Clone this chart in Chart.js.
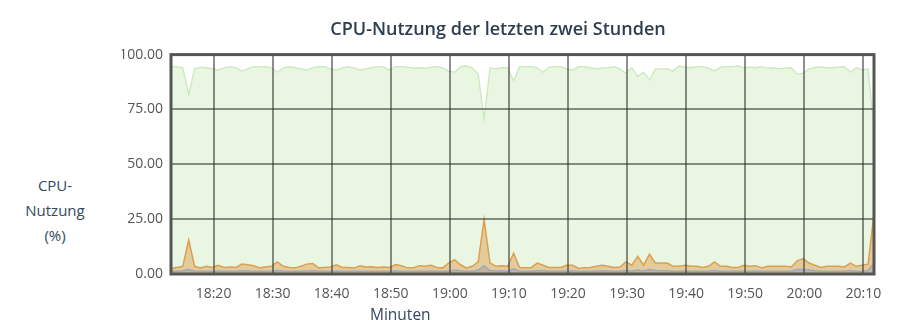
<!DOCTYPE html>
<html>
<head>
<meta charset="utf-8">
<script src="https://cdn.jsdelivr.net/npm/chart.js@4/dist/chart.umd.min.js"></script>
<style>
  body { margin: 0; width: 907px; height: 320px; position: relative; background: #fff; font-family: "Open Sans", sans-serif; overflow: hidden; }
  #ylabel { position: absolute; left: 0; top: 173px; width: 110px; text-align: center; line-height: 25px; font-size: 15px; color: #34495e; }
  #xlabel { position: absolute; left: 370px; top: 303px; line-height: 22px; font-size: 15.5px; color: #34495e; }
  #wrap { position: absolute; left: 90px; top: 0; width: 817px; height: 320px; }
</style>
</head>
<body>
<div id="ylabel">CPU-<br>Nutzung<br>(%)</div>
<div id="wrap"><canvas id="cpuChart" width="817" height="320"></canvas></div>
<div id="xlabel">Minuten</div>
<script>
// one sample per minute, first sample at 18:12:48
var sampleStart = '18:12:48';
var sampleStepMin = 1;

var xTickLabels = ['18:20', '18:30', '18:40', '18:50', '19:00', '19:10',
                   '19:20', '19:30', '19:40', '19:50', '20:00', '20:10'];
var yTickValues = [0, 25, 50, 75, 100];

// idle (green)
var idleValues = [
  94.5, 94.5, 94.0, 82.0, 93.5, 94.3, 94.0, 93.5, 93.0, 94.0,
  94.5, 94.0, 92.5, 93.5, 94.5, 94.3, 94.5, 94.0, 92.0, 94.0,
  94.5, 94.0, 93.5, 93.0, 94.0, 94.5, 94.5, 93.5, 93.0, 94.0,
  94.5, 94.0, 93.0, 93.5, 94.0, 94.5, 94.3, 93.0, 94.5, 94.5,
  94.3, 93.8, 94.0, 93.8, 94.2, 94.5, 94.0, 92.5, 92.0, 94.5,
  94.8, 94.0, 91.0, 70.5, 94.0, 93.5, 94.0, 94.0, 88.0, 94.5,
  94.5, 94.5, 94.0, 92.0, 94.3, 94.5, 94.5, 93.5, 93.0, 94.5,
  94.5, 94.0, 93.5, 93.8, 94.0, 94.5, 93.5, 91.5, 94.0, 90.0,
  92.0, 88.5, 93.5, 93.5, 93.5, 92.5, 94.8, 94.3, 94.0, 94.5,
  94.5, 93.8, 92.5, 94.3, 94.5, 94.5, 94.8, 94.0, 94.3, 94.0,
  94.5, 93.8, 94.0, 93.5, 93.8, 94.0, 91.0, 91.5, 93.5, 94.0,
  94.5, 94.0, 94.0, 94.3, 94.5, 92.0, 94.0, 93.0, 93.5, 66.0
];

// user (orange)
var userValues = [
  2.5, 3.0, 3.5, 15.5, 3.5, 2.8, 3.5, 3.0, 4.0, 3.0,
  3.2, 3.0, 4.5, 4.2, 3.8, 2.8, 3.2, 3.5, 5.5, 3.5,
  3.0, 2.8, 3.5, 4.5, 4.8, 2.8, 3.0, 3.2, 4.2, 3.0,
  3.0, 2.7, 3.8, 3.2, 3.3, 3.0, 3.2, 3.0, 4.3, 3.8,
  2.8, 2.8, 3.8, 3.5, 4.0, 3.0, 2.8, 5.0, 6.5, 4.2,
  2.8, 3.5, 5.5, 24.8, 5.0, 3.5, 3.8, 3.5, 9.5, 3.0,
  2.8, 3.0, 5.0, 4.0, 3.0, 3.0, 3.0, 4.0, 4.0, 2.5,
  2.8, 3.0, 3.5, 4.0, 3.5, 3.0, 3.2, 5.5, 4.0, 8.0,
  4.0, 9.0, 5.0, 5.0, 5.0, 3.5, 3.5, 4.0, 3.5, 3.5,
  3.0, 3.5, 5.5, 3.5, 3.5, 3.0, 3.0, 4.0, 3.5, 3.8,
  2.8, 3.5, 3.5, 3.5, 3.5, 3.2, 6.0, 7.0, 5.0, 4.0,
  3.0, 3.5, 3.5, 3.5, 3.2, 5.0, 3.5, 4.0, 4.5, 27.5
];

// system (gray)
var systemValues = [
  1.2, 1.3, 1.5, 2.0, 1.4, 1.2, 1.3, 1.2, 1.4, 1.3,
  1.2, 1.3, 1.5, 1.4, 1.3, 1.2, 1.2, 1.3, 1.6, 1.4,
  1.3, 1.2, 1.3, 1.4, 1.5, 1.3, 1.2, 1.2, 1.4, 1.3,
  1.2, 1.2, 1.3, 1.3, 1.2, 1.2, 1.3, 1.2, 1.4, 1.3,
  1.2, 1.2, 1.4, 1.3, 1.4, 1.3, 1.2, 1.3, 1.8, 1.5,
  1.3, 1.3, 1.8, 3.8, 1.6, 1.4, 1.5, 1.3, 2.4, 1.4,
  1.3, 1.3, 1.5, 1.6, 1.3, 1.3, 1.2, 1.4, 1.5, 1.2,
  1.2, 1.3, 1.4, 1.5, 1.4, 1.3, 1.3, 1.6, 1.4, 1.8,
  1.4, 2.0, 1.6, 1.5, 1.5, 1.3, 1.2, 1.4, 1.3, 1.3,
  1.2, 1.3, 1.6, 1.3, 1.3, 1.2, 1.2, 1.4, 1.3, 1.4,
  1.2, 1.3, 1.3, 1.3, 1.3, 1.3, 2.2, 2.0, 1.8, 1.5,
  1.3, 1.3, 1.3, 1.3, 1.3, 1.6, 1.3, 1.4, 1.6, 5.2
];

// "HH:MM(:SS)" -> minutes since midnight
function toMinutes(s) {
    var p = s.split(':').map(Number);
    return p[0] * 60 + p[1] + (p[2] || 0) / 60;
}
function toLabel(m) {
    var h = Math.floor(m / 60), mm = Math.round(m - h * 60);
    return h + ':' + (mm < 10 ? '0' : '') + mm;
}

var t0 = toMinutes(sampleStart);
function points(values) {
    return values.map((v, i) => ({ x: t0 + i * sampleStepMin, y: v }));
}
var tMin = t0;
var tMax = t0 + (idleValues.length - 1) * sampleStepMin;

// frame around the plot area
var frame = {
    id: 'frame',
    afterDraw(chart) {
        var a = chart.chartArea, c = chart.ctx;
        c.save();
        c.strokeStyle = '#555';
        c.lineWidth = 3;
        c.strokeRect(a.left, a.top, a.right - a.left, a.bottom - a.top);
        c.restore();
    }
};

var gridColor = 'rgba(50,50,50,0.55)';
var ctx = document.getElementById('cpuChart').getContext('2d');

var chart = new Chart(ctx, {
    type: 'line',
    data: {
        datasets: [{
            label: 'System',
            data: points(systemValues),
            borderColor: '#a2a8bc',
            backgroundColor: 'rgba(150,150,150,0.45)',
            borderWidth: 1.5,
            fill: 'origin'
        }, {
            label: 'Benutzer',
            data: points(userValues),
            borderColor: '#dd9f4f',
            backgroundColor: 'rgba(221,159,79,0.48)',
            borderWidth: 1.5,
            fill: 'origin'
        }, {
            label: 'Leerlauf',
            data: points(idleValues),
            borderColor: '#c9eabb',
            backgroundColor: '#e9f6e1',
            borderWidth: 1.3,
            fill: 'origin'
        }]
    },
    options: {
        responsive: false,
        animation: false,
        elements: { point: { radius: 0 }, line: { tension: 0 } },
        layout: { padding: { left: 32, right: 33, top: 0, bottom: 0 } },
        plugins: {
            legend: { display: false },
            tooltip: { enabled: false },
            title: {
                display: true,
                text: 'CPU-Nutzung der letzten zwei Stunden',
                color: '#2c3e50',
                font: { family: '"Open Sans", sans-serif', size: 18, weight: '600' },
                padding: { top: 19, bottom: 14 }
            }
        },
        scales: {
            x: {
                type: 'linear',
                min: tMin,
                max: tMax,
                afterBuildTicks: scale => {
                    scale.ticks = xTickLabels.map(l => ({ value: toMinutes(l) }));
                },
                afterFit: scale => { scale.height = 46; },
                ticks: {
                    callback: v => toLabel(v),
                    autoSkip: false,
                    maxRotation: 0,
                    padding: 12,
                    color: '#555',
                    font: { family: '"Open Sans", sans-serif', size: 14 }
                },
                grid: { z: 1, color: gridColor, lineWidth: 2, drawTicks: false },
                border: { display: false }
            },
            y: {
                min: 0,
                max: 100,
                afterBuildTicks: scale => {
                    scale.ticks = yTickValues.map(v => ({ value: v }));
                },
                afterFit: scale => { scale.width = 49; },
                ticks: {
                    callback: v => v.toFixed(2),
                    padding: 8,
                    color: '#555',
                    font: { family: '"Open Sans", sans-serif', size: 14 }
                },
                grid: { z: 1, color: gridColor, lineWidth: 2, drawTicks: false },
                border: { display: false }
            }
        }
    },
    plugins: [frame]
});
</script>
</body>
</html>
